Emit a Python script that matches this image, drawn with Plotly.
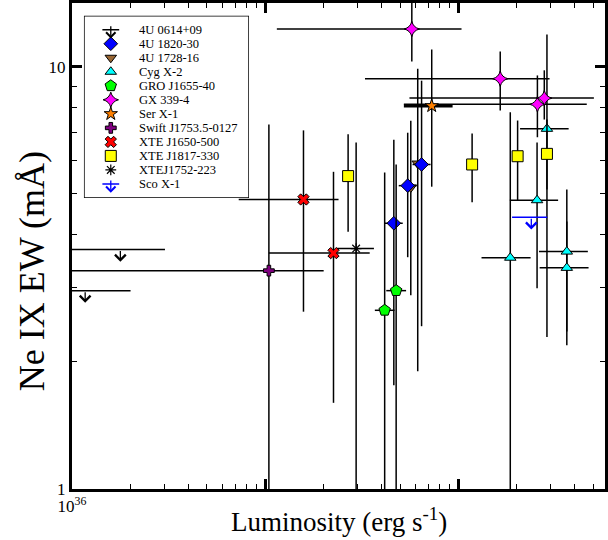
import numpy as np
import plotly.graph_objects as go

FONT = "Liberation Serif"

# ---------------- data (luminosity in erg/s, EW in mA) ----------------
# 4U 0614+09 : upper limits
u0614_lum = [1.78e36, 1.17e36]
u0614_lum_lo = [8.0e35, 8.0e35]
u0614_lum_hi = [3.03e36, 2.01e36]
u0614_ew = [3.69, 2.95]

# 4U 1820-30
u1820_lum = [6.46e37, 5.475e37, 4.64e37]
u1820_lum_lo = [5.80e37, 4.92e37, 4.17e37]
u1820_lum_hi = [7.19e37, 6.09e37, 5.16e37]
u1820_ew = [5.87, 5.23, 4.26]
u1820_ew_lo = [2.43, 3.54, 1.76]
u1820_ew_hi = [9.27, 6.98, 6.72]

# 4U 1728-16
u1728_lum = [6.17e37, 5.68e37]
u1728_lum_lo = [6.17e37, 5.68e37]
u1728_lum_hi = [6.17e37, 5.68e37]
u1728_ew = [5.90, 5.18]
u1728_ew_lo = [1.90, 2.875]
u1728_ew_hi = [9.89, 7.45]

# Cyg X-2
cyg_lum = [2.88e38, 2.56e38, 1.86e38, 3.65e38, 3.65e38]
cyg_lum_lo = [2.09e38, 1.85e38, 1.32e38, 2.62e38, 2.64e38]
cyg_lum_hi = [3.73e38, 3.29e38, 2.37e38, 4.69e38, 4.73e38]
cyg_ew = [7.13, 4.83, 3.53, 3.65, 3.34]
cyg_ew_lo = [2.29, 2.99, 1.0, 2.36, 2.19]
cyg_ew_hi = [11.93, 6.62, 7.80, 5.12, 4.30]

# GRO J1655-40
gro_lum = [4.77e37, 4.16e37]
gro_lum_lo = [4.24e37, 3.70e37]
gro_lum_hi = [5.37e37, 4.68e37]
gro_ew = [2.95, 2.65]
gro_ew_lo = [1.0, 1.0]
gro_ew_hi = [5.87, 5.62]

# GX 339-4
gx_lum = [5.75e37, 1.65e38, 2.57e38, 2.79e38]
gx_lum_lo = [1.15e37, 3.29e37, 5.23e37, 5.59e37]
gx_lum_hi = [1.04e38, 2.97e38, 4.63e38, 5.04e38]
gx_ew = [12.29, 9.37, 8.15, 8.43]
gx_ew_lo = [10.29, 7.88, 6.81, 7.50]
gx_ew_hi = [14.5, 10.87, 9.54, 9.81]

# Ser X-1
ser_lum = [7.29e37]
ser_lum_lo = [5.23e37]
ser_lum_hi = [9.35e37]
ser_ew = [8.08]
ser_ew_lo = [5.20]
ser_ew_hi = [10.99]

# Swift J1753.5-0127
swift_lum = [1.046e37]
swift_lum_lo = [8.0e35]
swift_lum_hi = [2.01e37]
swift_ew = [3.29]
swift_ew_lo = [1.0]
swift_ew_hi = [7.30]

# XTE J1650-500
x1650_lum = [1.58e37, 2.26e37]
x1650_lum_lo = [7.30e36, 1.046e37]
x1650_lum_hi = [2.40e37, 3.48e37]
x1650_ew = [4.85, 3.62]
x1650_ew_lo = [2.63, 1.60]
x1650_ew_hi = [7.07, 5.64]

# XTE J1817-330
x1817_lum = [2.69e37, 1.18e38, 2.03e38, 2.88e38]
x1817_lum_lo = [2.69e37, 1.18e38, 2.03e38, 2.88e38]
x1817_lum_hi = [2.69e37, 1.18e38, 2.03e38, 2.88e38]
x1817_ew = [5.51, 5.87, 6.14, 6.22]
x1817_ew_lo = [4.07, 4.78, 4.81, 5.12]
x1817_ew_hi = [6.92, 6.95, 7.46, 7.50]

# XTEJ1752-223
x1752_lum = [2.96e37]
x1752_lum_lo = [2.36e37]
x1752_lum_hi = [3.66e37]
x1752_ew = [3.71]
x1752_ew_lo = [1.0]
x1752_ew_hi = [6.62]

# Sco X-1 : upper limit
sco_lum = [2.39e38]
sco_lum_lo = [1.90e38]
sco_lum_hi = [2.89e38]
sco_ew = [4.40]

legend_names = ["4U 0614+09", "4U 1820-30", "4U 1728-16", "Cyg X-2", "GRO J1655-40",
                "GX 339-4", "Ser X-1", "Swift J1753.5-0127", "XTE J1650-500",
                "XTE J1817-330", "XTEJ1752-223", "Sco X-1"]

x_major = [1e36, 1e37, 1e38]
x_major_text = ["10<sup>36</sup>", " ", " "]
y_major = [1, 10]
y_major_text = ["1", "10"]

# ---------------- styles ----------------
styles = {
    "4U 1820-30": dict(symbol="diamond", color="#0000ff", size=10.5),
    "4U 1728-16": dict(symbol="triangle-down", color="#996633", size=10),
    "Cyg X-2": dict(symbol="triangle-up", color="#00ffff", size=10),
    "GRO J1655-40": dict(symbol="pentagon", color="#00ff00", size=12),
    "GX 339-4": dict(symbol="star-diamond", color="#ff00ff", size=11),
    "Ser X-1": dict(symbol="star", color="#ff8000", size=10),
    "Swift J1753.5-0127": dict(symbol="cross", color="#800080", size=9),
    "XTE J1650-500": dict(symbol="x", color="#ff0000", size=10),
    "XTE J1817-330": dict(symbol="square", color="#ffff00", size=11),
    "XTEJ1752-223": dict(symbol="asterisk-open", color="#000000", size=9),
}

fig = go.Figure()


def add_points(name, x, xlo, xhi, y, ylo, yhi, xthick=1.5):
    x = np.array(x); xlo = np.array(xlo); xhi = np.array(xhi)
    y = np.array(y); ylo = np.array(ylo); yhi = np.array(yhi)
    st = styles[name]
    lw = 1.2 if st["symbol"].endswith("open") else 1
    fig.add_trace(go.Scatter(
        x=x, y=y, mode="markers", name=name, showlegend=False,
        marker=dict(symbol=st["symbol"], color=st["color"], size=st["size"],
                    line=dict(color="black", width=lw)),
        error_x=dict(type="data", symmetric=False, array=xhi - x, arrayminus=x - xlo,
                     color="black", thickness=xthick, width=0),
        error_y=dict(type="data", symmetric=False, array=yhi - y, arrayminus=y - ylo,
                     color="black", thickness=1.5, width=0),
    ))


ARROW_FAC = 0.936
annotations = []


def add_limits(name, x, xlo, xhi, y, color):
    x = np.array(x); xlo = np.array(xlo); xhi = np.array(xhi); y = np.array(y)
    fig.add_trace(go.Scatter(
        x=x, y=y, mode="markers", name=name, showlegend=False,
        marker=dict(size=2, opacity=0),
        error_x=dict(type="data", symmetric=False, array=xhi - x, arrayminus=x - xlo,
                     color=color, thickness=1.5, width=0),
    ))
    for xv, yv in zip(x, y):
        annotations.append(dict(
            x=np.log10(xv), y=np.log10(yv * ARROW_FAC), ax=np.log10(xv), ay=np.log10(yv),
            xref="x", yref="y", axref="x", ayref="y", text="", showarrow=True,
            arrowhead=4, arrowsize=1.6, arrowwidth=1.3, arrowcolor=color, standoff=0))


add_limits("4U 0614+09", u0614_lum, u0614_lum_lo, u0614_lum_hi, u0614_ew, "black")
add_points("4U 1728-16", u1728_lum, u1728_lum_lo, u1728_lum_hi, u1728_ew, u1728_ew_lo, u1728_ew_hi)
add_points("4U 1820-30", u1820_lum, u1820_lum_lo, u1820_lum_hi, u1820_ew, u1820_ew_lo, u1820_ew_hi)
add_points("Cyg X-2", cyg_lum, cyg_lum_lo, cyg_lum_hi, cyg_ew, cyg_ew_lo, cyg_ew_hi)
add_points("GRO J1655-40", gro_lum, gro_lum_lo, gro_lum_hi, gro_ew, gro_ew_lo, gro_ew_hi)
add_points("GX 339-4", gx_lum, gx_lum_lo, gx_lum_hi, gx_ew, gx_ew_lo, gx_ew_hi)
add_points("Ser X-1", ser_lum, ser_lum_lo, ser_lum_hi, ser_ew, ser_ew_lo, ser_ew_hi, xthick=3)
add_points("Swift J1753.5-0127", swift_lum, swift_lum_lo, swift_lum_hi, swift_ew, swift_ew_lo, swift_ew_hi)
add_points("XTE J1650-500", x1650_lum, x1650_lum_lo, x1650_lum_hi, x1650_ew, x1650_ew_lo, x1650_ew_hi)
add_points("XTE J1817-330", x1817_lum, x1817_lum_lo, x1817_lum_hi, x1817_ew, x1817_ew_lo, x1817_ew_hi)
add_points("XTEJ1752-223", x1752_lum, x1752_lum_lo, x1752_lum_hi, x1752_ew, x1752_ew_lo, x1752_ew_hi)
add_limits("Sco X-1", sco_lum, sco_lum_lo, sco_lum_hi, sco_ew, "#0000ff")

# ---------------- custom legend (overlay axes x2/y2) ----------------
LEG_SYM_X = 27
LEG_TXT_X = 53
for i, nm in enumerate(legend_names):
    if nm in ("4U 0614+09", "Sco X-1"):
        col = "black" if nm == "4U 0614+09" else "#0000ff"
        fig.add_trace(go.Scatter(
            x=[LEG_SYM_X], y=[i], xaxis="x2", yaxis="y2", mode="markers", showlegend=False,
            hoverinfo="skip",
            marker=dict(symbol="line-ew", size=12, line=dict(color=col, width=1.5))))
        annotations.append(dict(x=LEG_SYM_X, y=i + 0.62, ax=LEG_SYM_X, ay=i - 0.35,
                                xref="x2", yref="y2", axref="x2", ayref="y2", text="",
                                showarrow=True, arrowhead=4, arrowsize=1.4, arrowwidth=1.3,
                                arrowcolor=col, standoff=0))
    else:
        st = styles[nm]
        lw = 1.2 if st["symbol"].endswith("open") else 1
        fig.add_trace(go.Scatter(
            x=[LEG_SYM_X], y=[i], xaxis="x2", yaxis="y2", mode="markers", showlegend=False,
            hoverinfo="skip",
            marker=dict(symbol=st["symbol"], color=st["color"], size=st["size"],
                        line=dict(color="black", width=lw))))
    annotations.append(dict(x=LEG_TXT_X, y=i, xref="x2", yref="y2", text=nm, showarrow=False,
                            xanchor="left", yanchor="middle",
                            font=dict(family=FONT, size=12.5, color="black")))

# axis titles
annotations.append(dict(text="Luminosity (erg s<sup>-1</sup>)", xref="paper", yref="paper",
                        x=0.5, y=-0.064, xanchor="center", yanchor="middle", showarrow=False,
                        font=dict(family=FONT, size=27, color="black")))
annotations.append(dict(text="Ne IX EW (mÅ)", xref="paper", yref="paper", textangle=-90,
                        x=-0.0746, y=0.4486, xanchor="center", yanchor="middle", showarrow=False,
                        font=dict(family=FONT, size=36, color="black")))

minor_x = [m * 10.0 ** e for e in (36, 37, 38) for m in range(2, 10)]
minor_y = [2, 3, 4, 5, 6, 7, 8, 9, 20]

fig.update_layout(
    width=608, height=540,
    margin=dict(l=72, r=0, t=3, b=51),
    paper_bgcolor="white", plot_bgcolor="white",
    font=dict(family=FONT, color="black"),
    annotations=annotations,
    shapes=[dict(type="rect", xref="x2", yref="y2", x0=0, x1=166, y0=-1, y1=12,
                 line=dict(color="black", width=1.5), fillcolor="rgba(0,0,0,0)")],
    xaxis=dict(type="log", range=[36, 38.76], tickvals=x_major, ticktext=x_major_text,
               ticks="inside", ticklen=10, tickwidth=2.5, tickcolor="black",
               showline=True, linewidth=3, linecolor="black", mirror="ticks",
               showgrid=False, zeroline=False, tickfont=dict(family=FONT, size=17),
               minor=dict(ticks="inside", ticklen=5, tickwidth=1.2, tickcolor="black",
                          tickvals=minor_x, showgrid=False)),
    yaxis=dict(type="log", range=[0, 1.1511], tickvals=y_major, ticktext=y_major_text,
               ticks="inside", ticklen=10, tickwidth=2.5, tickcolor="black",
               showline=True, linewidth=3, linecolor="black", mirror="ticks",
               showgrid=False, zeroline=False, tickfont=dict(family=FONT, size=17),
               minor=dict(ticks="inside", ticklen=5, tickwidth=1.2, tickcolor="black",
                          tickvals=minor_y, showgrid=False)),
    xaxis2=dict(domain=[0.0224, 0.3321], range=[0, 166], anchor="y2", visible=False,
                fixedrange=True),
    yaxis2=dict(domain=[0.5988, 0.9739], range=[12, -1], anchor="x2", visible=False,
                fixedrange=True),
    showlegend=False,
)

fig.write_html("out.html")
